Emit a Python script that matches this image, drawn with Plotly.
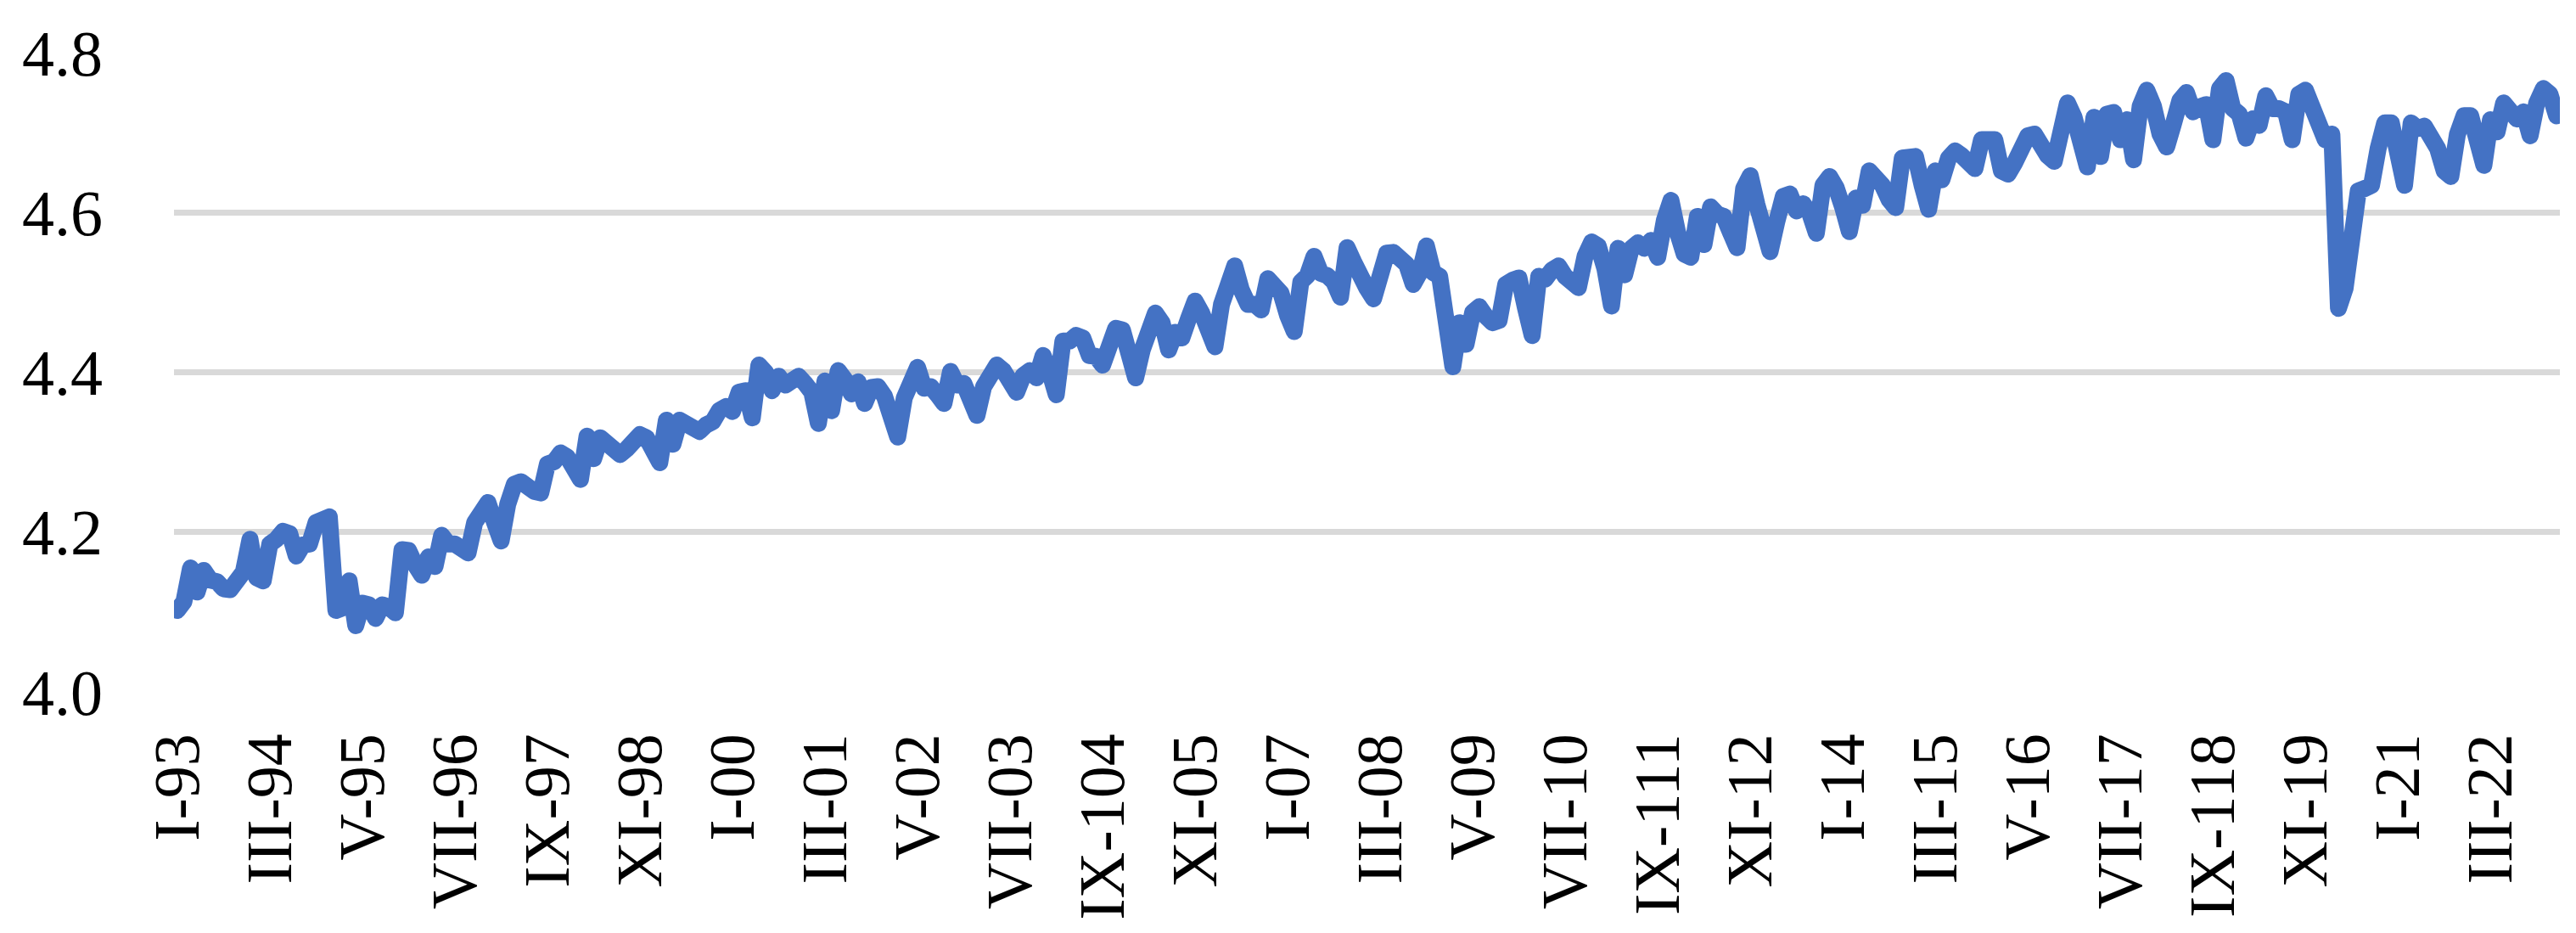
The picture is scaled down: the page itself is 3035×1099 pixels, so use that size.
import plotly.graph_objects as go

# Monthly series, Jan 1993 .. Jan 2023 (361 observations)
values = [
    # 1993
    4.102, 4.113, 4.155, 4.125, 4.152, 4.140, 4.138, 4.129, 4.128, 4.143, 4.150, 4.191,
    # 1994
    4.143, 4.139, 4.185, 4.191, 4.201, 4.198, 4.170, 4.184, 4.185, 4.212, 4.217, 4.219,
    # 1995
    4.102, 4.105, 4.139, 4.083, 4.111, 4.109, 4.092, 4.109, 4.106, 4.099, 4.178, 4.177,
    # 1996
    4.159, 4.146, 4.169, 4.157, 4.196, 4.185, 4.185, 4.180, 4.174, 4.212, 4.226, 4.237,
    # 1997
    4.212, 4.189, 4.235, 4.260, 4.263, 4.253, 4.251, 4.249, 4.285, 4.288, 4.299, 4.294,
    # 1998
    4.277, 4.266, 4.320, 4.292, 4.318, 4.311, 4.302, 4.297, 4.304, 4.313, 4.322, 4.318,
    # 1999
    4.301, 4.287, 4.340, 4.310, 4.340, 4.335, 4.331, 4.326, 4.334, 4.338, 4.352, 4.357,
    # 2000
    4.351, 4.375, 4.377, 4.343, 4.409, 4.400, 4.377, 4.395, 4.384, 4.393, 4.395, 4.386,
    # 2001
    4.375, 4.336, 4.389, 4.352, 4.402, 4.391, 4.373, 4.388, 4.361, 4.381, 4.382, 4.370,
    # 2002
    4.340, 4.319, 4.368, 4.396, 4.406, 4.380, 4.382, 4.372, 4.361, 4.401, 4.384, 4.386,
    # 2003
    4.358, 4.346, 4.382, 4.396, 4.409, 4.402, 4.386, 4.375, 4.396, 4.402, 4.393, 4.421,
    # 2004
    4.400, 4.372, 4.439, 4.439, 4.446, 4.443, 4.421, 4.420, 4.409, 4.439, 4.455, 4.453,
    # 2005
    4.425, 4.393, 4.428, 4.460, 4.474, 4.462, 4.428, 4.450, 4.443, 4.467, 4.489, 4.474,
    # 2006
    4.450, 4.432, 4.485, 4.503, 4.533, 4.503, 4.485, 4.485, 4.478, 4.517, 4.510, 4.499,
    # 2007
    4.471, 4.451, 4.513, 4.521, 4.545, 4.524, 4.521, 4.513, 4.494, 4.556, 4.538, 4.515,
    # 2008
    4.505, 4.492, 4.530, 4.549, 4.550, 4.545, 4.535, 4.510, 4.525, 4.558, 4.525, 4.520,
    # 2009
    4.470, 4.407, 4.462, 4.435, 4.475, 4.482, 4.470, 4.462, 4.465, 4.510, 4.515, 4.518,
    # 2010
    4.480, 4.446, 4.520, 4.517, 4.528, 4.533, 4.520, 4.512, 4.506, 4.545, 4.563, 4.558,
    # 2011
    4.530, 4.483, 4.555, 4.522, 4.555, 4.562, 4.555, 4.565, 4.544, 4.590, 4.615, 4.575,
    # 2012
    4.548, 4.544, 4.595, 4.560, 4.607, 4.598, 4.595, 4.575, 4.556, 4.630, 4.646, 4.610,
    # 2013
    4.575, 4.551, 4.588, 4.620, 4.623, 4.602, 4.611, 4.599, 4.574, 4.634, 4.645, 4.631,
    # 2014
    4.606, 4.576, 4.618, 4.609, 4.652, 4.643, 4.634, 4.616, 4.606, 4.668, 4.670, 4.670,
    # 2015
    4.634, 4.604, 4.652, 4.641, 4.668, 4.677, 4.671, 4.659, 4.655, 4.691, 4.693, 4.691,
    # 2016
    4.652, 4.648, 4.662, 4.684, 4.696, 4.698, 4.678, 4.671, 4.664, 4.712, 4.737, 4.719,
    # 2017
    4.684, 4.657, 4.719, 4.670, 4.723, 4.725, 4.691, 4.716, 4.666, 4.733, 4.753, 4.733,
    # 2018
    4.698, 4.682, 4.710, 4.740, 4.750, 4.726, 4.732, 4.735, 4.691, 4.755, 4.765, 4.730,
    # 2019
    4.723, 4.693, 4.717, 4.709, 4.746, 4.730, 4.730, 4.726, 4.691, 4.748, 4.753, 4.732,
    # 2020
    4.719, 4.691, 4.698, 4.480, 4.505, 4.590, 4.627, 4.630, 4.634, 4.680, 4.712, 4.712,
    # 2021
    4.673, 4.634, 4.712, 4.705, 4.708, 4.694, 4.680, 4.652, 4.645, 4.698, 4.721, 4.721,
    # 2022
    4.677, 4.659, 4.716, 4.701, 4.737, 4.723, 4.717, 4.726, 4.696, 4.737, 4.755, 4.748,
    # 2023
    4.721,
]

tick_labels = [
    "I-93", "III-94", "V-95", "VII-96", "IX-97", "XI-98", "I-00", "III-01",
    "V-02", "VII-03", "IX-104", "XI-05", "I-07", "III-08", "V-09", "VII-10",
    "IX-111", "XI-12", "I-14", "III-15", "V-16", "VII-17", "IX-118", "XI-19",
    "I-21", "III-22",
]
tick_step = 14  # months between labelled categories

y_ticks = [4.0, 4.2, 4.4, 4.6, 4.8]

positions = list(range(len(values)))
tick_positions = [k * tick_step for k in range(len(tick_labels))]

fig = go.Figure()
fig.add_trace(go.Scatter(
    x=positions,
    y=values,
    mode="lines",
    line=dict(color="#4472C4", width=20),
    showlegend=False,
    hoverinfo="skip",
))

font_family = "Liberation Serif, Times New Roman, serif"

fig.update_layout(
    width=3035,
    height=1099,
    margin=dict(l=197, r=27, t=54, b=292),
    paper_bgcolor="white",
    plot_bgcolor="white",
    font=dict(family=font_family, size=76, color="black"),
    xaxis=dict(
        range=[-0.5, len(values) - 0.5],
        tickmode="array",
        tickvals=tick_positions,
        ticktext=tick_labels,
        tickangle=-90,
        showgrid=False,
        zeroline=False,
        showline=False,
        ticks="",
        ticklabelstandoff=33,
        tickfont=dict(family=font_family, size=76, color="black"),
    ),
    yaxis=dict(
        range=[4.0, 4.8],
        tickmode="array",
        tickvals=y_ticks,
        tickformat=".1f",
        showgrid=True,
        gridcolor="#D9D9D9",
        gridwidth=6.7,
        zeroline=False,
        showline=False,
        ticks="",
        ticklabelstandoff=83,
        tickfont=dict(family=font_family, size=76, color="black"),
    ),
)

# Rounded joins and caps on the series line, as in the original chart
round_joins = (
    "var gd = document.getElementById('{plot_id}');"
    "function roundLines(){"
    "  gd.querySelectorAll('.scatterlayer path.js-line').forEach(function(p){"
    "    p.style.strokeLinejoin = 'round'; p.style.strokeLinecap = 'round';"
    "  });"
    "}"
    "roundLines(); gd.on('plotly_afterplot', roundLines);"
)

fig.write_html("out.html", post_script=round_joins)
